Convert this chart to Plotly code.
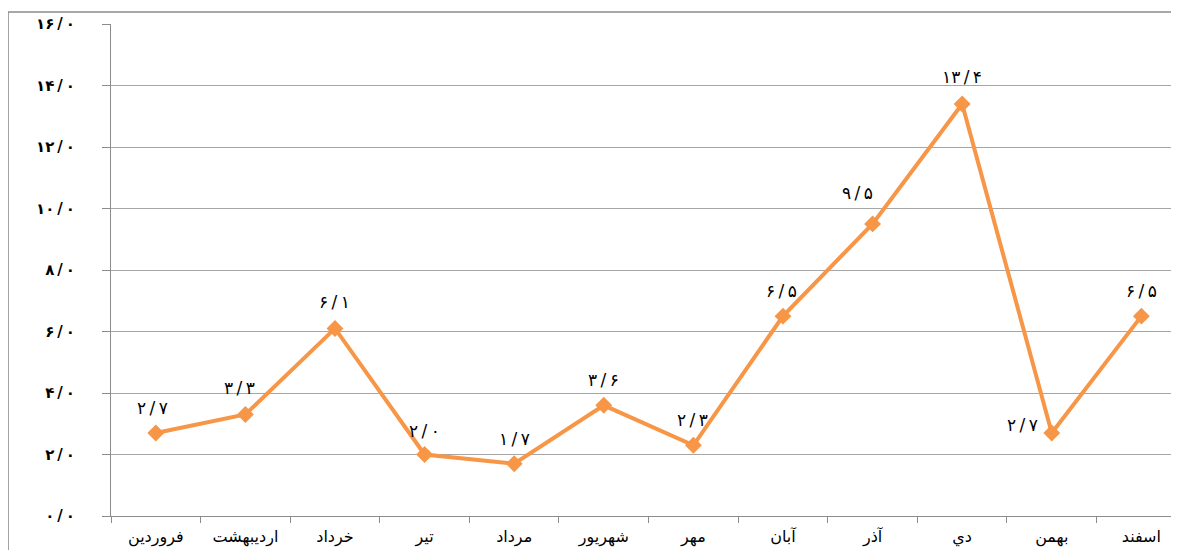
import plotly.graph_objects as go

months = ["فروردین", "اردیبهشت", "خرداد", "تیر", "مرداد", "شهریور",
          "مهر", "آبان", "آذر", "دي", "بهمن", "اسفند"]
values = [2.7, 3.3, 6.1, 2.0, 1.7, 3.6, 2.3, 6.5, 9.5, 13.4, 2.7, 6.5]
y_ticks = [0, 2, 4, 6, 8, 10, 12, 14, 16]

# label offsets (style only)
label_dx = [-3, -6, 0, 0, 0, 0, -1, -1, -15, 0, -29, 0]
label_dy = [25, 27, 26, 24, 25, 25, 25, 25, 31, 27, 8, 25]

fa_digits = str.maketrans("0123456789.", "۰۱۲۳۴۵۶۷۸۹/")

def fa(v, sep=" "):
    s = f"{v:.1f}".translate(fa_digits)
    return s.replace("/", sep + "/" + sep)

ORANGE = "#F79646"
FONT = "DejaVu Sans"

fig = go.Figure()
fig.add_trace(go.Scatter(
    x=months, y=values, mode="lines+markers",
    line=dict(color=ORANGE, width=4),
    marker=dict(symbol="diamond", size=13, color=ORANGE),
    hoverinfo="skip", showlegend=False,
))

for m, v, dx, dy in zip(months, values, label_dx, label_dy):
    fig.add_annotation(x=m, y=v, text=fa(v, "\u2009"), showarrow=False,
                       xshift=dx, yshift=dy,
                       font=dict(family=FONT, size=17, color="#000000"))

fig.update_xaxes(
    type="category", range=[-0.5, 11.42], automargin=False,
    showline=True, linecolor="#8C8C8C", linewidth=1,
    ticks="outside", ticklen=6, tickcolor="#8C8C8C", tickson="boundaries",
    ticklabelstandoff=6,
    tickfont=dict(family=FONT, size=16, color="#000000"),
    showgrid=False, zeroline=False,
)
fig.update_yaxes(
    range=[0, 16], tickvals=y_ticks, automargin=False,
    ticktext=[fa(t, "\u2009") for t in y_ticks],
    showline=True, linecolor="#8C8C8C", linewidth=1,
    ticks="outside", ticklen=8, tickcolor="#8C8C8C",
    ticklabelstandoff=24,
    tickfont=dict(family=FONT, size=15, color="#000000", weight="bold"),
    showgrid=True, gridcolor="#A6A6A6", gridwidth=1, zeroline=False,
)

# outer chart border
fig.add_shape(type="rect", xref="paper", yref="paper",
              x0=-0.0964, x1=1.05, y0=-0.2, y1=1.0244,
              line=dict(color="#8C8C8C", width=1.5), layer="below")

fig.update_layout(
    width=1171, height=542,
    margin=dict(l=103, r=0, t=16, b=34, autoexpand=False),
    plot_bgcolor="white", paper_bgcolor="white",
    font=dict(family=FONT),
)

fig.write_html("out.html")
